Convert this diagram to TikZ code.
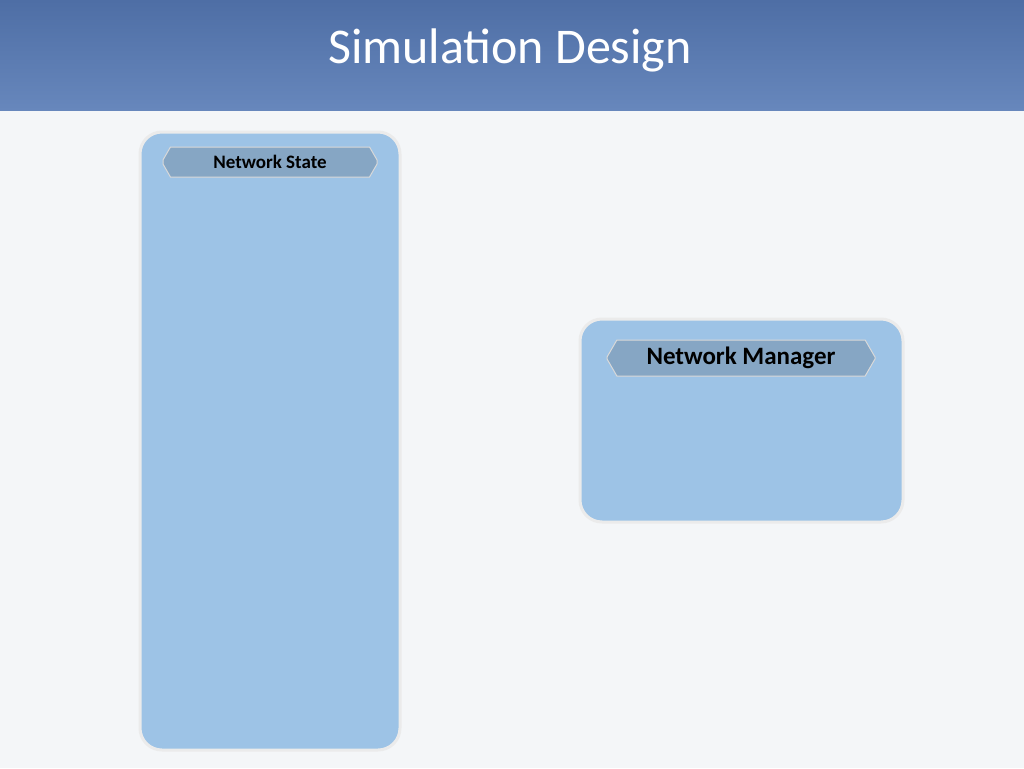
\documentclass[tikz,border=0pt]{standalone}
\usepackage{fontspec}
\setmainfont{Carlito}
\usetikzlibrary{shapes.misc}
\definecolor{bg}{HTML}{F4F6F8}
\definecolor{headtop}{HTML}{4E6EA5}
\definecolor{headbot}{HTML}{6787BC}
\definecolor{boxfill}{HTML}{9DC3E6}
\definecolor{tagfill}{HTML}{86A6C4}
\tikzset{
  panel/.style={fill=boxfill, rounded corners=22pt, draw=black!8, line width=3pt},
  tag/.style={chamfered rectangle, chamfered rectangle xsep=2cm, chamfered rectangle angle=30,
    fill=tagfill, draw=black!15, line width=1pt, font=\bfseries, inner ysep=3pt},
}
\begin{document}
\begin{tikzpicture}[x=1pt,y=-1pt]
  \fill[bg] (0,0) rectangle (1024,768);
  \shade[top color=headtop, bottom color=headbot] (0,0) rectangle (1024,110);
  \node[text=white, font=\fontsize{50}{56}\selectfont] (title) at (510,50) {Simulation Design};

  % left panel
  \draw[panel] (140,132) rectangle (400,750);
  \node[tag, minimum width=214pt, minimum height=30pt, font=\fontsize{19}{22}\selectfont\bfseries]
    (state) at (270,162) {Network State};

  % right panel
  \draw[panel] (580,319) rectangle (903,522);
  \node[tag, minimum width=268pt, minimum height=36pt, font=\fontsize{25}{30}\selectfont\bfseries]
    (manager) at (741,358) {Network Manager};
\end{tikzpicture}
\end{document}
